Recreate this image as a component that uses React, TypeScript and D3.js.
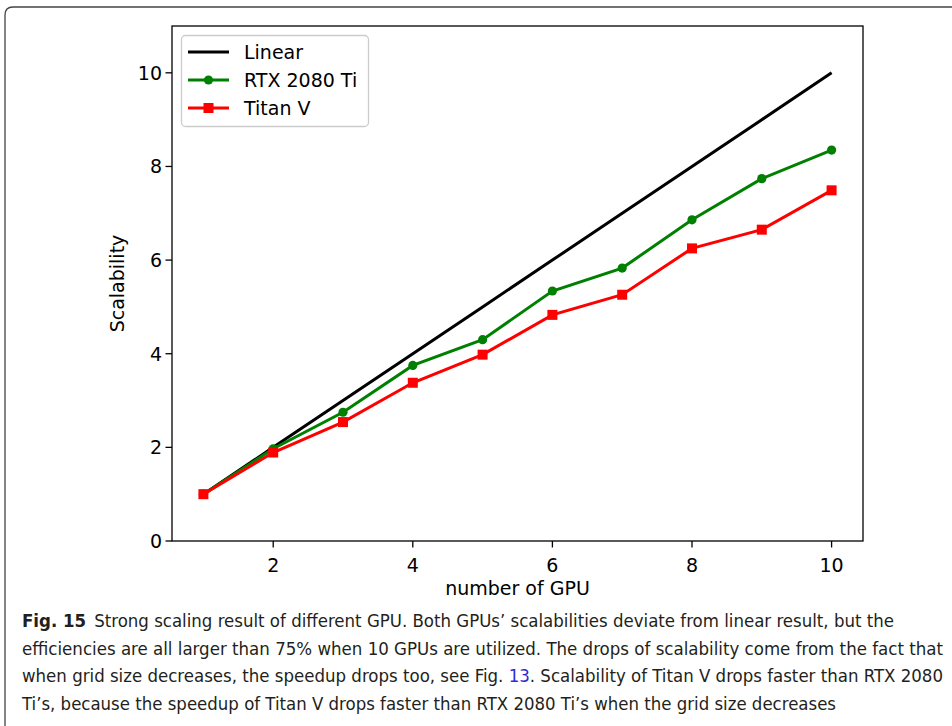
import React from 'react';
import * as d3 from 'd3';

// GPU counts and measured scalability
const gpus = [1, 2, 3, 4, 5, 6, 7, 8, 9, 10];
const linear = [1, 2, 3, 4, 5, 6, 7, 8, 9, 10];
const rtx2080ti = [1.0, 1.97, 2.75, 3.75, 4.3, 5.34, 5.83, 6.86, 7.74, 8.35];
const titanV = [1.0, 1.89, 2.54, 3.38, 3.98, 4.83, 5.26, 6.25, 6.65, 7.49];

const xTicks = [2, 4, 6, 8, 10];
const yTicks = [0, 2, 4, 6, 8, 10];

const legendItems = [
  { label: 'Linear', color: '#000000', marker: 'none' },
  { label: 'RTX 2080 Ti', color: '#008000', marker: 'circle' },
  { label: 'Titan V', color: '#ff0000', marker: 'square' },
];

const captionLines = [
  { bold: 'Fig. 15', text: 'Strong scaling result of different GPU. Both GPUs\u2019 scalabilities deviate from linear result, but the', width: 872 },
  { bold: '', text: 'efficiencies are all larger than 75% when 10 GPUs are utilized. The drops of scalability come from the fact that', width: 921 },
  { bold: '', text: 'when grid size decreases, the speedup drops too, see Fig. ', link: '13', rest: '. Scalability of Titan V drops faster than RTX 2080', width: 921 },
  { bold: '', text: 'Ti\u2019s, because the speedup of Titan V drops faster than RTX 2080 Ti\u2019s when the grid size decreases', width: 814 },
];

const W = 952;
const H = 726;
const plot = { left: 172, right: 863, top: 26, bottom: 541 };
const font = '"DejaVu Sans", sans-serif';

const App = () => {
  const x = d3.scaleLinear().domain([0.55, 10.45]).range([plot.left, plot.right]);
  const y = d3.scaleLinear().domain([0, 11]).range([plot.bottom, plot.top]);

  const line = d3.line<number>()
    .x((_, i) => x(gpus[i]))
    .y(d => y(d));

  return (
    <div style={{ position: 'absolute', left: 0, top: 0 }}>
      <svg width={W} height={H} style={{ display: 'block', background: '#fff' }}>
        {/* outer figure frame */}
        <path d={`M5,${H} L5,15 Q5,7 13,7 L${W},7`} fill="none" stroke="#444" strokeWidth={1.3} />

        {/* series */}
        <path d={line(linear) || ''} fill="none" stroke="#000" strokeWidth={3} />
        <path d={line(rtx2080ti) || ''} fill="none" stroke="#008000" strokeWidth={3} />
        <path d={line(titanV) || ''} fill="none" stroke="#ff0000" strokeWidth={3} />
        {rtx2080ti.map((v, i) => (
          <circle key={'g' + i} cx={x(gpus[i])} cy={y(v)} r={4.6} fill="#008000" />
        ))}
        {titanV.map((v, i) => (
          <rect key={'r' + i} x={x(gpus[i]) - 5} y={y(v) - 5} width={10} height={10} fill="#ff0000" />
        ))}

        {/* axes frame */}
        <rect x={plot.left} y={plot.top} width={plot.right - plot.left} height={plot.bottom - plot.top}
          fill="none" stroke="#000" strokeWidth={1.3} />

        {/* x ticks */}
        {xTicks.map(t => (
          <g key={'x' + t}>
            <line x1={x(t)} x2={x(t)} y1={plot.bottom} y2={plot.bottom + 6.5} stroke="#000" strokeWidth={1.3} />
            <text x={x(t)} y={plot.bottom + 31} textAnchor="middle" fontFamily={font} fontSize={19}>{t}</text>
          </g>
        ))}
        {/* y ticks */}
        {yTicks.map(t => (
          <g key={'y' + t}>
            <line x1={plot.left - 6.5} x2={plot.left} y1={y(t)} y2={y(t)} stroke="#000" strokeWidth={1.3} />
            <text x={plot.left - 10} y={y(t) + 7} textAnchor="end" fontFamily={font} fontSize={19}>{t}</text>
          </g>
        ))}

        <text x={(plot.left + plot.right) / 2} y={595} textAnchor="middle" fontFamily={font} fontSize={19}>number of GPU</text>
        <text transform={`translate(124,${(plot.top + plot.bottom) / 2}) rotate(-90)`} textAnchor="middle"
          fontFamily={font} fontSize={19}>Scalability</text>

        {/* legend */}
        <rect x={181.5} y={35.5} width={187} height={91} rx={4} fill="#fff" fillOpacity={0.8} stroke="#ccc" strokeWidth={1.3} />
        {legendItems.map((item, i) => {
          const ly = 52 + i * 28;
          return (
            <g key={item.label}>
              <line x1={188} x2={229} y1={ly} y2={ly} stroke={item.color} strokeWidth={3} />
              {item.marker === 'circle' && <circle cx={208.5} cy={ly} r={4.6} fill={item.color} />}
              {item.marker === 'square' && <rect x={203.5} y={ly - 5} width={10} height={10} fill={item.color} />}
              <text x={244} y={ly + 7} fontFamily={font} fontSize={19}>{item.label}</text>
            </g>
          );
        })}

        {/* caption */}
        {captionLines.map((c, i) => (
          <text key={'c' + i} x={22} y={627 + i * 27.5} fontFamily='"Liberation Sans Narrow", "DejaVu Sans Condensed", sans-serif'
            fontSize={18.3} fill="#231f20" textLength={c.width} lengthAdjust="spacingAndGlyphs">
            {c.bold && <tspan fontWeight="bold">{c.bold}</tspan>}
            <tspan dx={c.bold ? 8 : 0}>{c.text}</tspan>
            {c.link && <tspan fill="#2b2bd6">{c.link}</tspan>}
            {c.rest && <tspan>{c.rest}</tspan>}
          </text>
        ))}
      </svg>
    </div>
  );
};

export default App;
